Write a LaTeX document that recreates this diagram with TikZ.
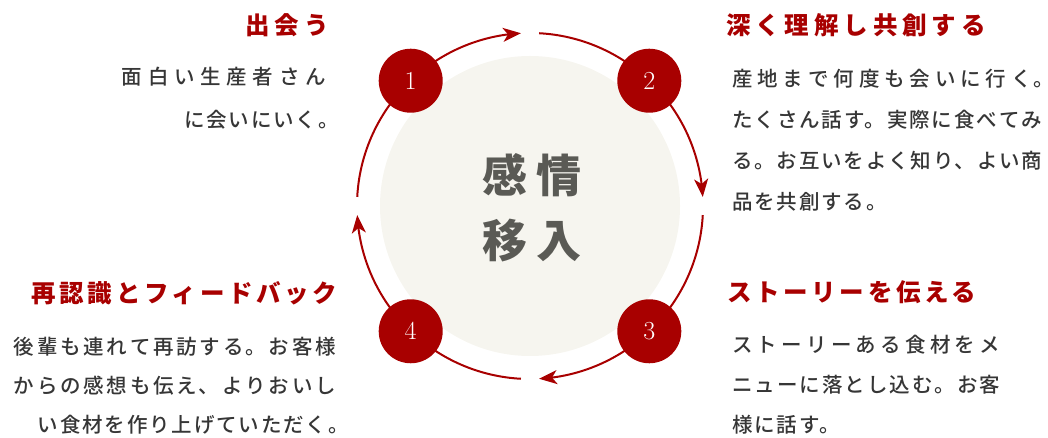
\documentclass[tikz,border=0pt]{standalone}
\usepackage{fontspec}
\usetikzlibrary{arrows.meta,bending}
\newfontfamily\jpbody[LetterSpace=9]{Noto Sans CJK JP Medium}
\newfontfamily\jptitle[LetterSpace=20]{Noto Sans CJK JP}
\newfontfamily\jptitlek[LetterSpace=15]{Noto Sans CJK JP}
\newfontfamily\jpcenter[LetterSpace=22]{Noto Sans CJK JP}
\XeTeXlinebreaklocale "ja"
\XeTeXlinebreakskip=1.85pt plus 20pt
\newcommand\hangdot{\kern-12pt}
\definecolor{ringred}{HTML}{A80000}
\definecolor{bodygray}{HTML}{363636}
\definecolor{centergray}{HTML}{5A5A55}
\definecolor{centerfill}{HTML}{F6F5EF}
\begin{document}
\begin{tikzpicture}[x=1pt,y=1pt,
  ring/.style={draw=ringred, line width=2pt},
  ringarrow/.style={ring, -{Stealth[length=18pt,width=14pt,inset=5pt]}},
  numcircle/.style={circle, fill=ringred, minimum size=64pt, inner sep=0pt, text=white, font=\fontsize{26}{26}\selectfont},
  title/.style={inner sep=0pt, text=ringred, font=\jptitle\bfseries\fontsize{24.5}{25}\selectfont},
  titlek/.style={inner sep=0pt, text=ringred, font=\jptitlek\bfseries\fontsize{24.5}{25}\selectfont},
  body/.style={inner sep=0pt, text=bodygray, align=justify, font=\jpbody\fontsize{20.5}{#1}\selectfont},
]
\useasboundingbox (0,0) rectangle (1048,438);
\coordinate (C) at (530,232);
\def\R{173}
\node[circle, fill=centerfill, minimum size=300pt, inner sep=0pt] (core) at (C) {};
\node[align=center, inner sep=0pt, text=centergray, font=\jpcenter\bfseries\fontsize{45}{65}\selectfont] (ctext) at (532,230.5) {感情\\移入};

\path (C) ++(133.6:\R) coordinate (p1);
\path (C) ++(46.4:\R) coordinate (p2);
\path (C) ++(-46.4:\R) coordinate (p3);
\path (C) ++(-133.6:\R) coordinate (p4);
\path (C) ++(87:\R) coordinate (gtB);
\path (C) ++(-3:\R) coordinate (grB);
\path (C) ++(-93:\R) coordinate (gbB);
\path (C) ++(177:\R) coordinate (glB);

\draw[ringarrow] (p1) arc[start angle=133.6, end angle=93, radius=\R];
\draw[ring] (gtB) arc[start angle=87, end angle=46.4, radius=\R];
\draw[ringarrow] (p2) arc[start angle=46.4, end angle=3, radius=\R];
\draw[ring] (grB) arc[start angle=-3, end angle=-46.4, radius=\R];
\draw[ringarrow] (p3) arc[start angle=-46.4, end angle=-87, radius=\R];
\draw[ring] (gbB) arc[start angle=-93, end angle=-133.6, radius=\R];
\draw[ringarrow] (p4) arc[start angle=226.4, end angle=183, radius=\R];
\draw[ring] (glB) arc[start angle=177, end angle=133.6, radius=\R];

\node[numcircle] (c1) at (p1) {1};
\node[numcircle] (c2) at (p2) {2};
\node[numcircle] (c3) at (p3) {3};
\node[numcircle] (c4) at (p4) {4};

\node[title, anchor=east] (t1) at (329,413) {出会う};
\node[body=43, text width=204pt, anchor=north east] (b1) at (326,371.5) {\parindent=0pt\parfillskip=0pt 面白い生産者さん\linebreak\hspace*{\fill}に会いにいく。\kern-13pt};

\node[title, anchor=west] (t2) at (726,413) {深く理解し共創する};
\node[body=41, text width=310pt, anchor=north west] (b2) at (732,369.5) {\parindent=0pt 産地まで何度も会いに行く。\hangdot\linebreak たくさん話す。実際に食べてみ\linebreak る。お互いをよく知り、よい商\linebreak 品を共創する。};

\node[titlek, anchor=west] (t3) at (727,146) {ストーリーを伝える};
\node[body=40, text width=268pt, anchor=north west] (b3) at (732,103.5) {\parindent=0pt ストーリーある食材をメ\linebreak ニューに落とし込む。お客\linebreak 様に話す。};

\node[titlek, anchor=east] (t4) at (337.5,145) {再認識とフィードバック};
\node[body=39, text width=322pt, anchor=north east] (b4) at (336,101.5) {\parindent=0pt\parfillskip=0pt 後輩も連れて再訪する。お客様\linebreak からの感想も伝え、よりおいし\linebreak\hspace*{\fill}い食材を作り上げていただく。\kern-13pt};
\end{tikzpicture}
\end{document}
